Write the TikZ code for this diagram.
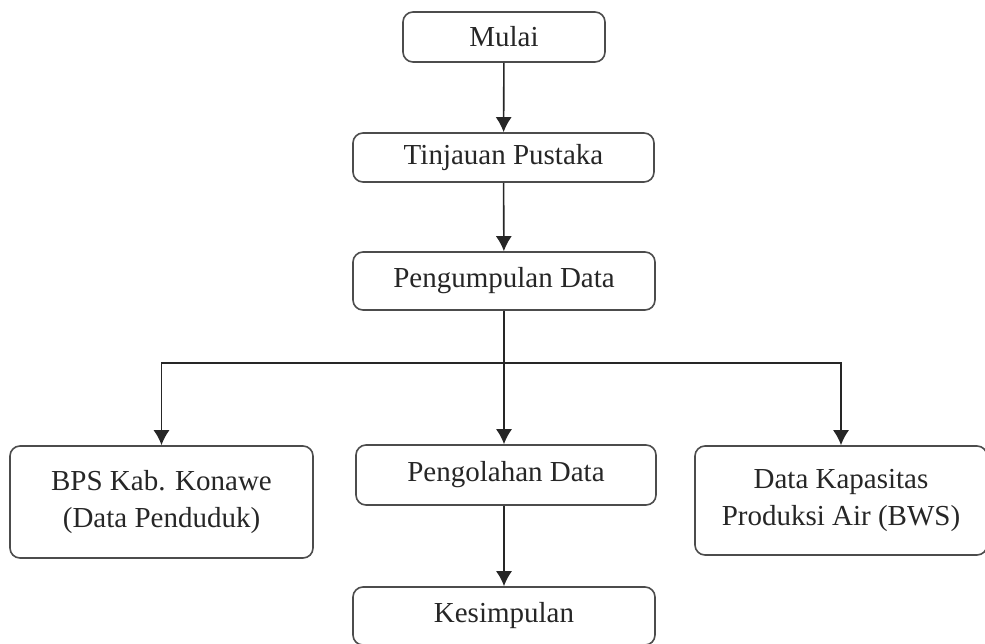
\documentclass[tikz,border=0pt]{standalone}
\usepackage{fontspec}
\setmainfont{Liberation Serif}
\usetikzlibrary{arrows.meta}
\begin{document}
\begin{tikzpicture}[x=1pt, y=-1pt,
    box/.style={draw=black!70, line width=1.6pt, rounded corners=10pt, inner sep=0pt,
      align=center, text=black!85, font=\fontsize{29}{37}\selectfont},
    flow/.style={draw=black!85, line width=1.6pt, -{Latex[length=15pt,width=16pt]}}]
      \useasboundingbox (0,0) rectangle (985,643);

      % main column
      \node[box, minimum width=202pt, minimum height=50pt] (mulai) at (504,37) {Mulai};
      \node[box, minimum width=301pt, minimum height=49pt] (tinjauan) at (503.5,157.5) {Tinjauan Pustaka};
      \node[box, minimum width=302pt, minimum height=58pt] (kumpul) at (504,281) {Pengumpulan Data};
      \node[box, minimum width=300pt, minimum height=60pt] (olah) at (506,475) {Pengolahan Data};
      \node[box, minimum width=302pt, minimum height=58pt] (simpul) at (504,616) {Kesimpulan};

      % side sources
      \node[box, minimum width=303pt, minimum height=112pt] (bps) at (161.5,502) {BPS Kab. Konawe\\(Data Penduduk)};
      \node[box, minimum width=292pt, minimum height=109pt] (bws) at (841,500.5) {Data Kapasitas\\Produksi Air (BWS)};

      \coordinate (split) at (504,363);

      \draw[flow] (mulai) -- (tinjauan);
      \draw[flow] (tinjauan) -- (kumpul);
      \draw[flow] (kumpul.south) -- (kumpul.south |- olah.north);
      \draw[flow] (olah.south -| simpul.north) -- (simpul.north);
      \draw[flow] (split) -| (bps.north);
      \draw[flow] (split) -| (bws.north);
    \end{tikzpicture}
\end{document}
